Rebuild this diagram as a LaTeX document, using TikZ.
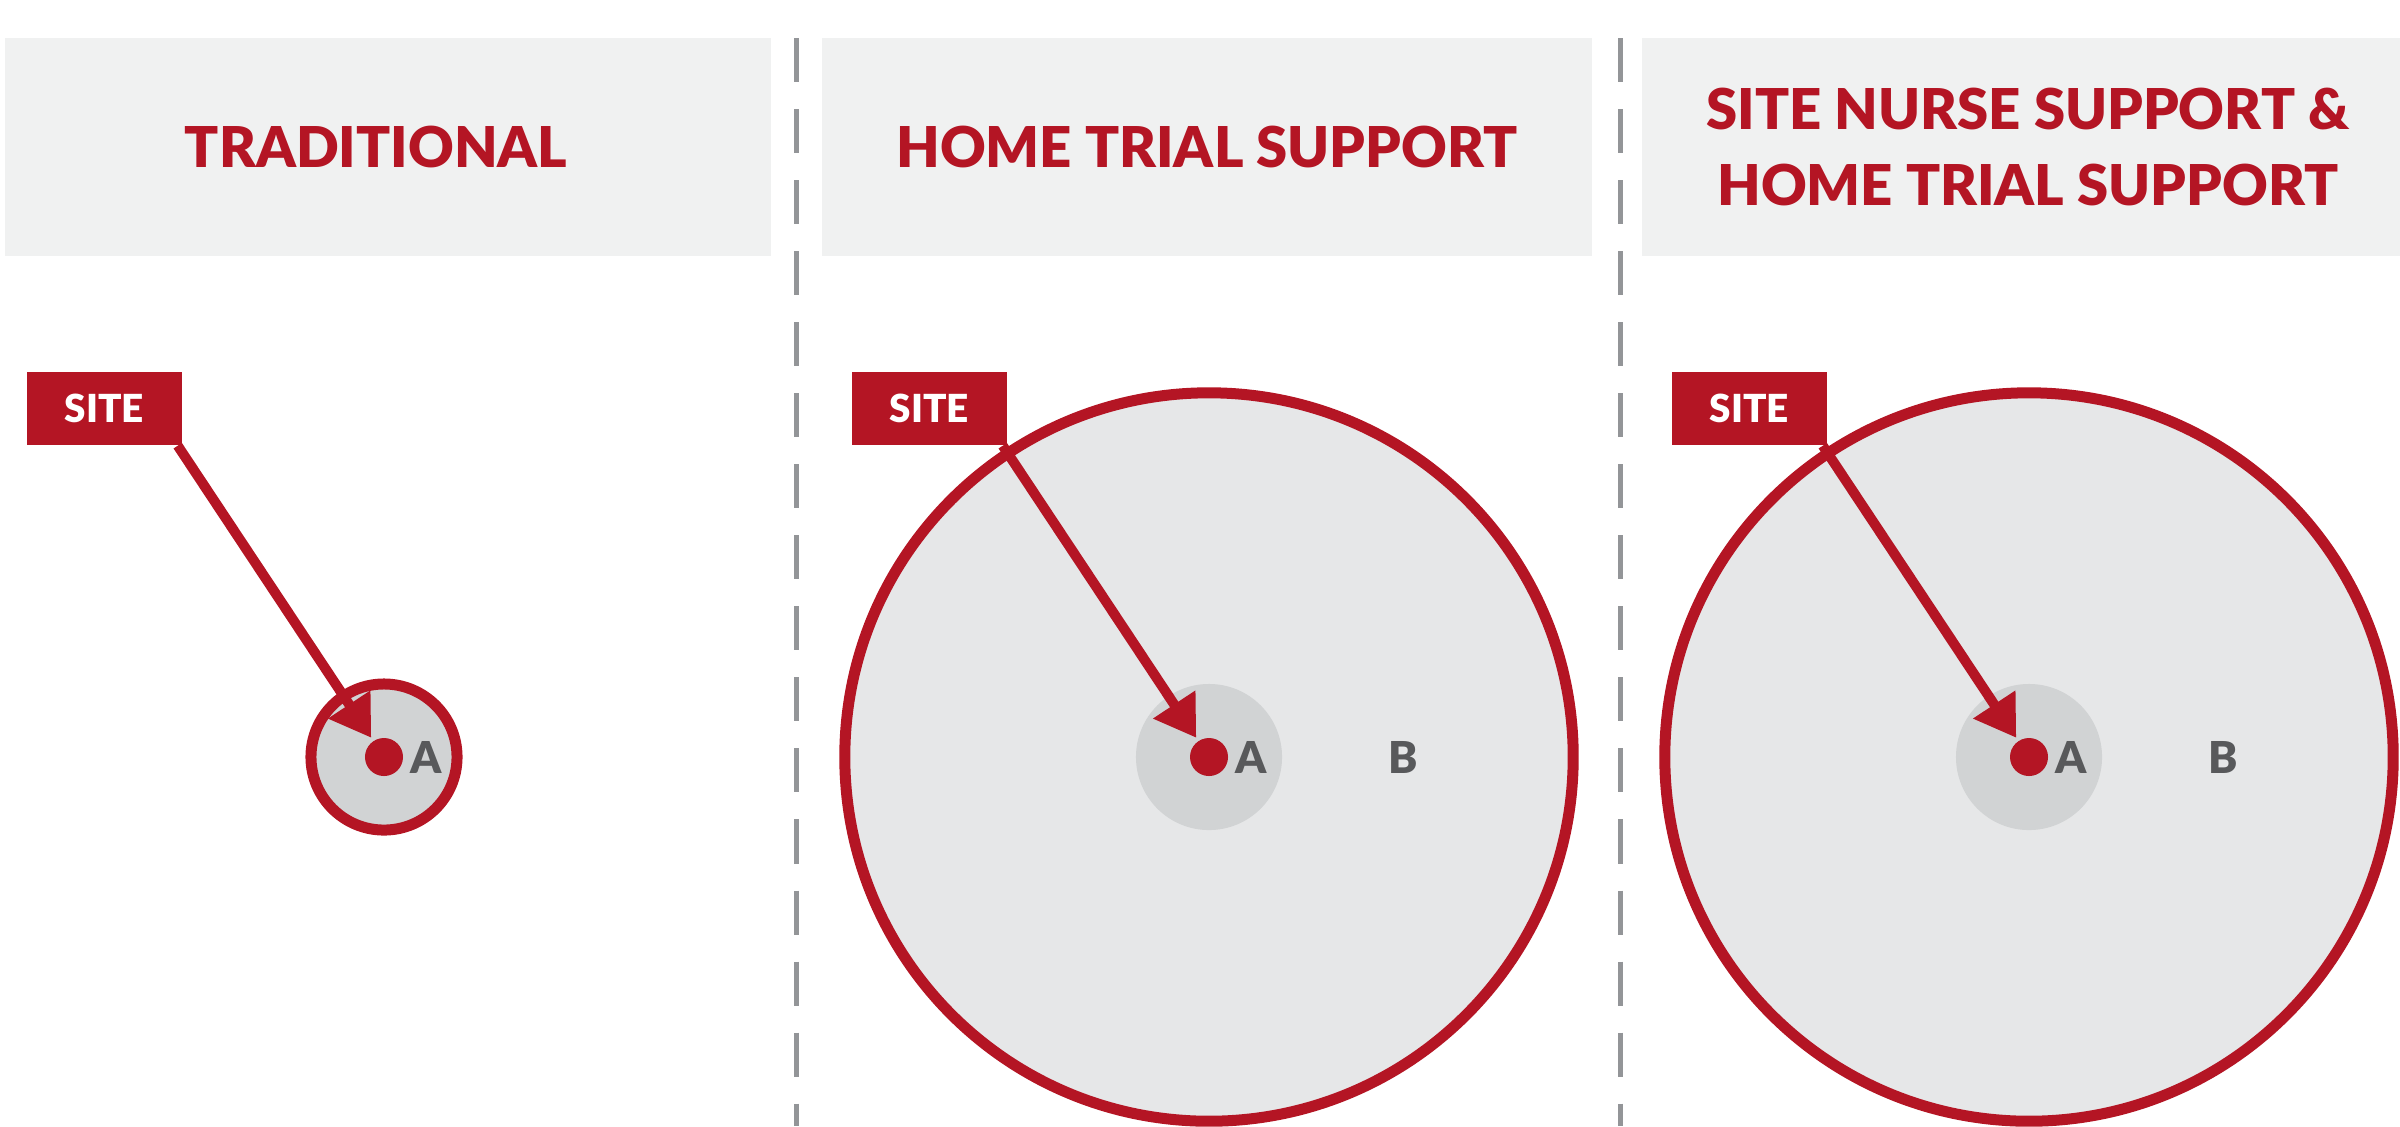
\documentclass[tikz,border=0pt]{standalone}
\usepackage{fontspec}
\setmainfont{Lato}[BoldFont={Lato Black}]
\usepackage{xcolor}
\usepackage{tikz}
\usetikzlibrary{arrows.meta,positioning}
\definecolor{siteRed}{HTML}{B41524}
\definecolor{headGrey}{HTML}{F0F1F1}
\definecolor{zoneGrey}{HTML}{E6E7E8}
\definecolor{coreGrey}{HTML}{D1D3D4}
\definecolor{labelGrey}{HTML}{58595B}
\definecolor{dashGrey}{HTML}{939598}
\tikzset{header/.style={
    fill=headGrey,
    minimum width=7.65cm,
    minimum height=2.18cm,
    inner sep=0pt
  },
  title/.style={
    text=siteRed,
    align=center,
    inner sep=0pt,
    font=\fontsize{16}{21.6}\selectfont\bfseries
  },
  sitebox/.style={
    fill=siteRed,
    text=white,
    minimum width=1.55cm,
    minimum height=0.73cm,
    inner sep=0pt,
    font=\fontsize{11}{12}\selectfont\bfseries
  },
  zone/.style={
    shape=circle,
    draw=siteRed,
    line width=0.11cm,
    fill=zoneGrey,
    minimum size=7.28cm,
    inner sep=0pt
  },
  ring/.style={
    shape=circle,
    draw=siteRed,
    line width=0.11cm,
    fill=coreGrey,
    minimum size=1.46cm,
    inner sep=0pt
  },
  core/.style={
    shape=circle,
    fill=coreGrey,
    minimum size=1.46cm,
    inner sep=0pt
  },
  dot/.style={
    shape=circle,
    fill=siteRed,
    minimum size=0.38cm,
    inner sep=0pt,
    outer sep=0.04cm
  },
  letter/.style={
    text=labelGrey,
    inner sep=0pt,
    font=\fontsize{12.5}{14}\selectfont\bfseries
  },
  separator/.style={
    draw=dashGrey,
    line width=0.05cm,
    dash pattern=on 0.44cm off 0.27cm
  },
  reach/.style={
    draw=siteRed,
    line width=0.10cm,
    -{Triangle[length=0.40cm,width=0.48cm]}
  }
}

\begin{document}
\begin{tikzpicture}[x=0.01cm,y=-0.01cm]
        \useasboundingbox (0,0) rectangle (2400,1126);
        % headers
        \node[header] (head1) at (388,147) {};
        \node[header,minimum width=7.69cm] (head2) at (1207,147) {};
        \node[header,minimum width=7.57cm] (head3) at (2021,147) {};
        \node[title] (title1) at (376,147) {TRADITIONAL};
        \node[title] (title2) at (1207,147) {HOME TRIAL SUPPORT};
        \node[title] (title3) at (2028,147) {SITE NURSE SUPPORT \&\\HOME TRIAL SUPPORT};
        % separators
        \coordinate (top1) at (796,38);
        \coordinate (bot1) at (796,1126);
        \coordinate (top2) at (1620,38);
        \coordinate (bot2) at (1620,1126);
        \draw[separator] (top1) -- (bot1);
        \draw[separator] (top2) -- (bot2);
        % zones
        \node[ring] (ring1) at (384,757) {};
        \node[zone] (zone2) at (1209,757) {};
        \node[core] (core2) at (1209,757) {};
        \node[zone] (zone3) at (2029,757) {};
        \node[core] (core3) at (2029,757) {};
        % sites
        \node[sitebox] (site1) at (104.5,408.5) {SITE};
        \node[sitebox] (site2) at (929.5,408.5) {SITE};
        \node[sitebox] (site3) at (1749.5,408.5) {SITE};
        % patients
        \node[dot] (dot1) at (384,757) {};
        \node[dot] (dot2) at (1209,757) {};
        \node[dot] (dot3) at (2029,757) {};
        \node[letter,right=0.03cm of dot1] (a1) {A};
        \node[letter,right=0.03cm of dot2] (a2) {A};
        \node[letter,right=0.03cm of dot3] (a3) {A};
        \node[letter,right=1.2cm of a2] (b2) {B};
        \node[letter,right=1.2cm of a3] (b3) {B};
        % arrows
        \draw[reach] ([xshift=-0.05cm]site1.south east) -- (dot1);
        \draw[reach] ([xshift=-0.05cm]site2.south east) -- (dot2);
        \draw[reach] ([xshift=-0.05cm]site3.south east) -- (dot3);
\end{tikzpicture}
\end{document}
